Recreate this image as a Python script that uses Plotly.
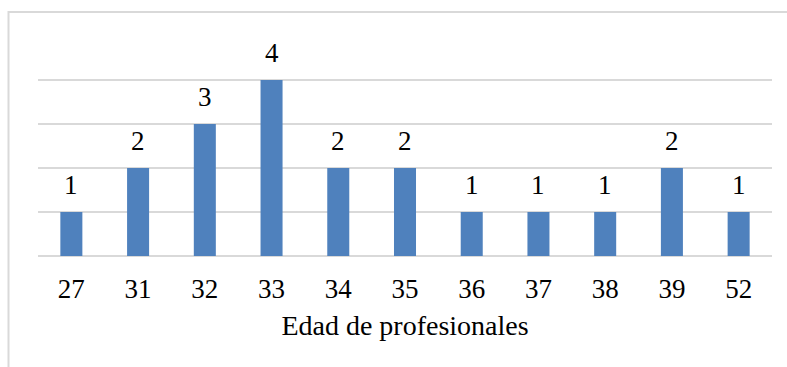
import plotly.graph_objects as go

edades = ["27", "31", "32", "33", "34", "35", "36", "37", "38", "39", "52"]
frecuencia = [1, 2, 3, 4, 2, 2, 1, 1, 1, 2, 1]
titulo_x = "Edad de profesionales"

fuente = "Liberation Serif, Times New Roman, serif"
tam = 27

fig = go.Figure(
    go.Bar(
        x=edades,
        y=frecuencia,
        marker=dict(color="#4F81BD", line=dict(width=0)),
        width=0.33,
        hoverinfo="x+y",
    )
)

# value labels sitting a little above each bar (category axis -> index positions)
for i, val in enumerate(frecuencia):
    fig.add_annotation(
        x=i,
        y=val,
        xref="x",
        yref="y",
        text=str(val),
        showarrow=False,
        yanchor="bottom",
        yshift=10,
        font=dict(family=fuente, size=tam, color="#000000"),
    )

fig.update_layout(
    width=787,
    height=367,
    margin=dict(l=38, r=15, t=36, b=111),
    paper_bgcolor="white",
    plot_bgcolor="white",
    showlegend=False,
    font=dict(family=fuente, size=tam, color="#000000"),
    xaxis=dict(
        type="category",
        range=[-0.5, len(edades) - 0.5],
        showgrid=False,
        showline=False,
        ticks="",
        tickfont=dict(family=fuente, size=tam, color="#000000"),
        ticklabelstandoff=14,
        title=dict(text=titulo_x, font=dict(family=fuente, size=28, color="#000000"), standoff=12),
    ),
    yaxis=dict(
        range=[0, 5],
        dtick=1,
        showticklabels=False,
        showgrid=True,
        gridcolor="#D9D9D9",
        gridwidth=2,
        zeroline=True,
        zerolinecolor="#D9D9D9",
        zerolinewidth=2,
        showline=False,
    ),
    shapes=[
        dict(
            type="rect",
            xref="paper",
            yref="paper",
            x0=-0.0402,
            x1=1.2,
            y0=-0.7,
            y1=1.109,
            line=dict(color="#D9D9D9", width=2),
            fillcolor="rgba(0,0,0,0)",
            layer="below",
        )
    ],
)

fig.write_html("out.html")
